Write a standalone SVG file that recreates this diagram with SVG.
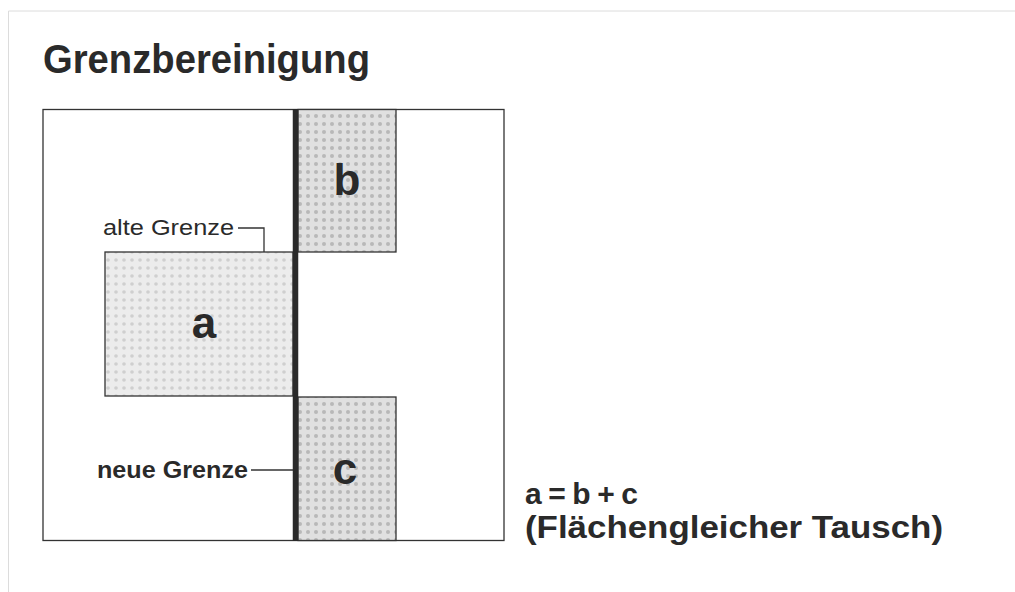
<svg xmlns="http://www.w3.org/2000/svg" width="1015" height="592" viewBox="0 0 1015 592">
<style>
.t{font-family:"Liberation Sans",Arial,sans-serif;fill:#2a2a2a}
.b{font-weight:bold}
.edge{fill:none;stroke:#333;stroke-width:1.3}
.lead{fill:none;stroke:#333;stroke-width:1.3}
</style>
<defs>
<pattern id="dotsLight" width="8" height="8" patternUnits="userSpaceOnUse">
<rect width="8" height="8" fill="#ececec"/>
<circle cx="4" cy="4" r="1.8" fill="#cfcfcf"/>
</pattern>
<pattern id="dotsDark" width="8" height="8" patternUnits="userSpaceOnUse">
<rect width="8" height="8" fill="#e0e0e0"/>
<circle cx="4" cy="4" r="2" fill="#b8b8b8"/>
</pattern>
</defs>
<rect width="1015" height="592" fill="#fff"/>
<path d="M1015 11 H8.5 V592" fill="none" stroke="#dcdcdc" stroke-width="1"/>
<text class="t b" x="43" y="73" font-size="40" textLength="327" lengthAdjust="spacingAndGlyphs">Grenzbereinigung</text>
<g id="parcel-frame">
<rect class="edge" x="43" y="109.5" width="461" height="431"/>
</g>
<g id="area-a">
<rect x="105" y="252" width="188" height="144" fill="url(#dotsLight)" stroke="#333" stroke-width="1.3"/>
<text class="t b" x="204" y="338" font-size="44" text-anchor="middle">a</text>
</g>
<g id="area-b">
<rect x="298" y="109.5" width="98" height="142.5" fill="url(#dotsDark)" stroke="#333" stroke-width="1.3"/>
<text class="t b" x="347" y="195" font-size="44" text-anchor="middle">b</text>
</g>
<g id="area-c">
<rect x="298" y="397" width="98" height="143.5" fill="url(#dotsDark)" stroke="#333" stroke-width="1.3"/>
<text class="t b" x="345" y="484" font-size="44" text-anchor="middle">c</text>
</g>
<g id="new-boundary">
<line x1="295.5" y1="109" x2="295.5" y2="541" stroke="#2a2a2a" stroke-width="5.5"/>
</g>
<g id="connectors">
<path class="lead" d="M238 228 H264 V252"/>
<path class="lead" d="M251 470 H293"/>
</g>
<g id="label-alte">
<text class="t" x="103" y="235" font-size="22" textLength="131" lengthAdjust="spacingAndGlyphs">alte Grenze</text>
</g>
<g id="label-neue">
<text class="t b" x="97" y="478" font-size="23" textLength="151" lengthAdjust="spacingAndGlyphs">neue Grenze</text>
</g>
<g id="formula">
<text class="t b" x="525" y="504" font-size="30" textLength="113" lengthAdjust="spacing">a=b+c</text>
<text class="t b" x="525" y="538" font-size="31" textLength="418" lengthAdjust="spacingAndGlyphs">(Flächengleicher Tausch)</text>
</g>
</svg>
